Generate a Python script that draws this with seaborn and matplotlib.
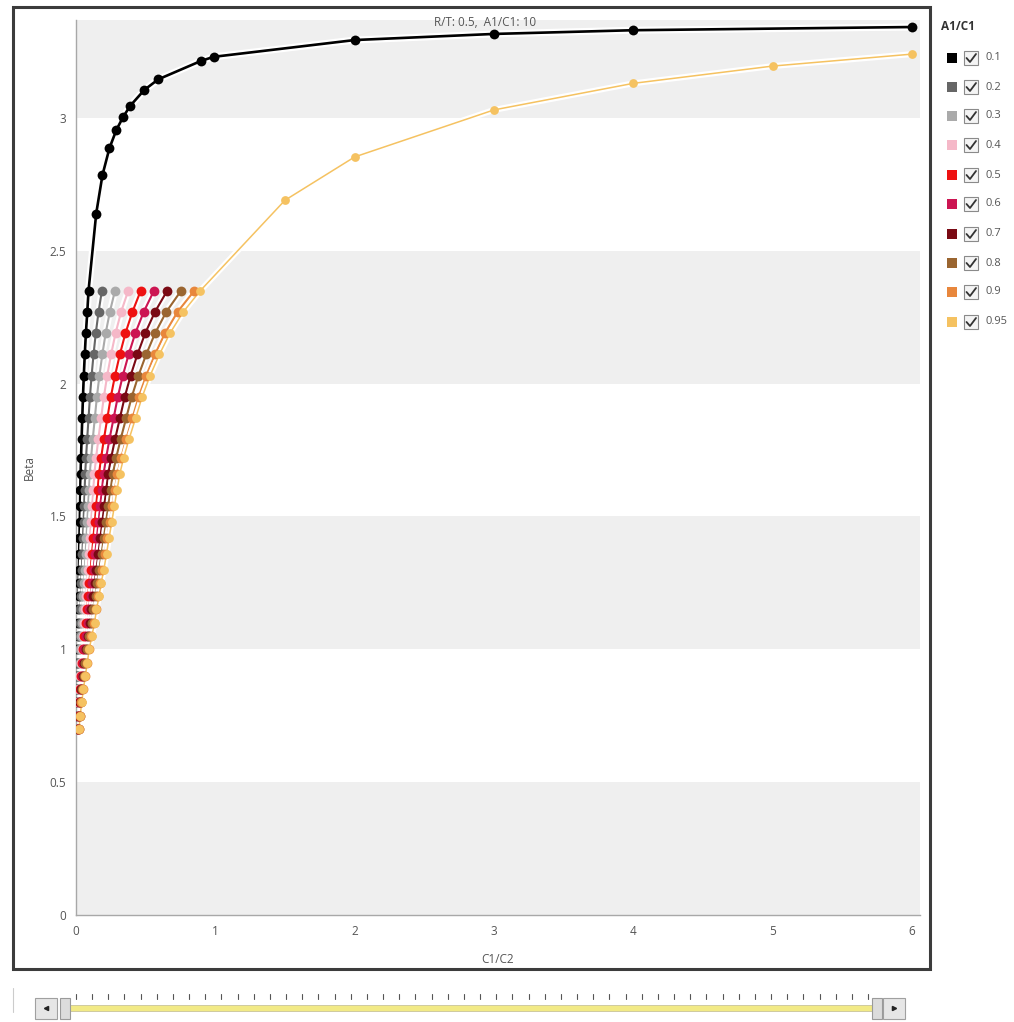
import numpy as np
import pandas as pd
import matplotlib.pyplot as plt
import seaborn as sns
import matplotlib.patheffects as pe
from matplotlib.patches import Rectangle
from matplotlib.lines import Line2D

# A1/C1 series shown in the legend
ratios = ['0.1', '0.2', '0.3', '0.4', '0.5', '0.6', '0.7', '0.8', '0.9', '0.95']
colors = ['#000000', '#666666', '#aaaaaa', '#f5b8c8', '#ee1111',
          '#cc1552', '#7a0a14', '#9a6530', '#e8873c', '#f5c261']

# Beta rows shared by all series in the dense part (top -> bottom)
beta_rows = [2.35, 2.27, 2.19, 2.11, 2.03, 1.95, 1.87, 1.79, 1.72, 1.66, 1.60, 1.54, 1.48, 1.42,
             1.36, 1.30, 1.25, 1.20, 1.15, 1.10, 1.05, 1.00, 0.95, 0.90, 0.85, 0.80, 0.75, 0.70]

# C1/C2 value of each series on those rows
x_01 = [0.090, 0.081, 0.071, 0.063, 0.056, 0.050, 0.045, 0.040, 0.036, 0.033, 0.031, 0.029, 0.027, 0.025,
        0.023, 0.021, 0.019, 0.018, 0.016, 0.014, 0.012, 0.010, 0.009, 0.007, 0.006, 0.004, 0.003, 0.002]
x_02 = [0.186, 0.162, 0.142, 0.126, 0.112, 0.100, 0.090, 0.080, 0.072, 0.066, 0.062, 0.058, 0.054, 0.050,
        0.046, 0.042, 0.038, 0.035, 0.031, 0.028, 0.024, 0.020, 0.017, 0.014, 0.011, 0.009, 0.006, 0.004]
x_03 = [0.280, 0.243, 0.213, 0.189, 0.168, 0.150, 0.135, 0.120, 0.108, 0.099, 0.093, 0.087, 0.081, 0.075,
        0.069, 0.063, 0.057, 0.053, 0.047, 0.042, 0.036, 0.030, 0.026, 0.021, 0.017, 0.013, 0.010, 0.007]
x_04 = [0.375, 0.324, 0.284, 0.252, 0.224, 0.200, 0.180, 0.160, 0.144, 0.132, 0.124, 0.116, 0.108, 0.100,
        0.092, 0.084, 0.076, 0.070, 0.062, 0.056, 0.048, 0.040, 0.034, 0.028, 0.022, 0.017, 0.013, 0.009]
x_05 = [0.465, 0.405, 0.355, 0.315, 0.280, 0.250, 0.225, 0.200, 0.180, 0.165, 0.155, 0.145, 0.135, 0.125,
        0.115, 0.105, 0.095, 0.088, 0.078, 0.070, 0.060, 0.050, 0.043, 0.035, 0.028, 0.022, 0.016, 0.011]
x_06 = [0.560, 0.486, 0.426, 0.378, 0.336, 0.300, 0.270, 0.240, 0.216, 0.198, 0.186, 0.174, 0.162, 0.150,
        0.138, 0.126, 0.114, 0.105, 0.093, 0.084, 0.072, 0.060, 0.051, 0.042, 0.034, 0.026, 0.019, 0.013]
x_07 = [0.655, 0.567, 0.497, 0.441, 0.392, 0.350, 0.315, 0.280, 0.252, 0.231, 0.217, 0.203, 0.189, 0.175,
        0.161, 0.147, 0.133, 0.123, 0.109, 0.098, 0.084, 0.070, 0.060, 0.049, 0.039, 0.030, 0.022, 0.015]
x_08 = [0.755, 0.648, 0.568, 0.504, 0.448, 0.400, 0.360, 0.320, 0.288, 0.264, 0.248, 0.232, 0.216, 0.200,
        0.184, 0.168, 0.152, 0.140, 0.124, 0.112, 0.096, 0.080, 0.068, 0.056, 0.045, 0.034, 0.026, 0.018]
x_09 = [0.850, 0.729, 0.639, 0.567, 0.504, 0.450, 0.405, 0.360, 0.324, 0.297, 0.279, 0.261, 0.243, 0.225,
        0.207, 0.189, 0.171, 0.158, 0.140, 0.126, 0.108, 0.090, 0.077, 0.063, 0.050, 0.039, 0.029, 0.020]
x_095 = [0.893, 0.770, 0.675, 0.599, 0.532, 0.475, 0.428, 0.380, 0.342, 0.314, 0.295, 0.276, 0.257, 0.238,
         0.219, 0.200, 0.181, 0.166, 0.147, 0.133, 0.114, 0.095, 0.081, 0.067, 0.053, 0.041, 0.030, 0.021]

# upper branches of the 0.1 and 0.95 series
x_01_up = [0.145, 0.19, 0.24, 0.29, 0.34, 0.39, 0.49, 0.59, 0.90, 0.99, 2, 3, 4, 6]
beta_01_up = [2.64, 2.785, 2.886, 2.955, 3.005, 3.046, 3.105, 3.145, 3.215, 3.23,
              3.293, 3.316, 3.33, 3.342]
x_095_up = [1.5, 2, 3, 4, 5, 6]
beta_095_up = [2.69, 2.853, 3.03, 3.13, 3.195, 3.24]

x_ticks = [0, 1, 2, 3, 4, 5, 6]
y_ticks = [0, 0.5, 1, 1.5, 2, 2.5, 3]
y_tick_labels = ['0', '0.5', '1', '1.5', '2', '2.5', '3']

# build one long table (each series from bottom to top)
x_series = [x_01, x_02, x_03, x_04, x_05, x_06, x_07, x_08, x_09, x_095]
frames = []
for r, xs in zip(ratios, x_series):
    xx = list(reversed(xs))
    bb = list(reversed(beta_rows))
    if r == '0.1':
        xx += x_01_up
        bb += beta_01_up
    if r == '0.95':
        xx += x_095_up
        bb += beta_095_up
    frames.append(pd.DataFrame({'C1/C2': xx, 'Beta': bb, 'A1/C1': r}))
df = pd.concat(frames, ignore_index=True)

sns.set_style('white')
plt.rcParams['font.family'] = ['Open Sans', 'DejaVu Sans']

W, H = 1014, 1022
fig = plt.figure(figsize=(W / 100, H / 100), dpi=100)

def fx(px):
    return px / W

def fy(py):
    return 1 - py / H

ax = fig.add_axes([fx(76), fy(915), (920 - 76) / W, (915 - 20) / H])
ax.set_xlim(0, 844 / 139.3)
ax.set_ylim(0, 895 / 265.7)

for lo in [0, 1, 2, 3]:
    ax.axhspan(lo, lo + 0.5, color='#efefef', lw=0, zorder=0)

for r, c in zip(ratios, colors):
    sub = df[df['A1/C1'] == r]
    lw = 1.9 if r == '0.1' else (1.1 if r == '0.95' else 1.5)
    sns.lineplot(data=sub, x='C1/C2', y='Beta', sort=False, estimator=None,
                 color=c, linewidth=lw, ax=ax, zorder=2,
                 path_effects=[pe.Stroke(linewidth=lw + 3.2, foreground='white'),
                               pe.Normal()])
for r, c in zip(ratios, colors):
    sub = df[df['A1/C1'] == r]
    size = 40 if r == '0.95' else 50
    sns.scatterplot(data=sub, x='C1/C2', y='Beta', color=c, s=size,
                    linewidth=0, ax=ax, zorder=3, legend=False)

sns.despine(ax=ax)
for side in ['left', 'bottom']:
    ax.spines[side].set_color('#a8a8a8')
    ax.spines[side].set_linewidth(1)
ax.set_xticks(x_ticks)
ax.set_yticks(y_ticks)
ax.set_yticklabels(y_tick_labels)
ax.tick_params(axis='both', length=4, width=0.8, color='#a0a0a0',
               labelsize=8.5, labelcolor='#555555', pad=3)
ax.set_xlabel('C1/C2', fontsize=8.5, color='#555555')
ax.set_ylabel('Beta', fontsize=8.5, color='#555555')
ax.xaxis.set_label_coords(0.499, -0.043)
ax.yaxis.set_label_coords(-0.047, 0.5)

fig.text(fx(485), fy(22), 'R/T: 0.5,  A1/C1: 10', ha='center', va='center',
         fontsize=8.5, color='#555555')

# outer frame
fig.patches.append(Rectangle((fx(13), fy(969)), (930 - 13) / W, (969 - 7) / H,
                             transform=fig.transFigure, fill=False,
                             edgecolor='#3c3c3c', linewidth=2.2))

# legend with checkboxes
fig.text(fx(941), fy(26), 'A1/C1', ha='left', va='center', fontsize=8.5,
         fontweight='bold', color='#333333')
legend_y = [58, 87, 116, 145, 175, 204, 234, 263, 292, 322]
for r, c, py in zip(ratios, colors, legend_y):
    fig.patches.append(Rectangle((fx(947), fy(py + 5)), 10 / W, 10 / H,
                                 transform=fig.transFigure, color=c, lw=0))
    fig.patches.append(Rectangle((fx(964), fy(py + 7)), 14 / W, 14 / H,
                                 transform=fig.transFigure, facecolor='#f4f4f4',
                                 edgecolor='#8a8a8a', lw=0.8))
    fig.lines.append(Line2D([fx(966.5), fx(970), fx(976)],
                            [fy(py), fy(py + 4), fy(py - 4)],
                            transform=fig.transFigure, color='#333333', lw=1.3))
    fig.text(fx(985), fy(py), r, ha='left', va='center', fontsize=8,
             color='#555555')

# range slider below the chart
sax = fig.add_axes([0, 0, 1, (H - 985) / H])
sax.set_xlim(0, W)
sax.set_ylim(H, 985)
sax.axis('off')
sax.add_patch(Rectangle((35, 998), 22, 21, facecolor='#e6e6e6', edgecolor='#a0a0a0', lw=0.8))
sax.add_patch(Rectangle((883, 998), 22, 21, facecolor='#e6e6e6', edgecolor='#a0a0a0', lw=0.8))
sax.plot([46], [1008.5], marker='<', color='#222222', ms=3)
sax.plot([894], [1008.5], marker='>', color='#222222', ms=3)
sax.add_patch(Rectangle((70, 1005), 802, 6, facecolor='#f2ea86', edgecolor='#c9c49a', lw=0.6))
sax.add_patch(Rectangle((60, 998), 10, 21, facecolor='#dcdcdc', edgecolor='#9a9a9a', lw=0.8))
sax.add_patch(Rectangle((872, 998), 10, 21, facecolor='#dcdcdc', edgecolor='#9a9a9a', lw=0.8))
for tx in np.linspace(76, 868, 50):
    sax.plot([tx, tx], [994, 999], color='#555555', lw=0.8)
sax.plot([13, 13], [988, 1012], color='#cccccc', lw=0.8)

fig.savefig('out.png', dpi=100)
